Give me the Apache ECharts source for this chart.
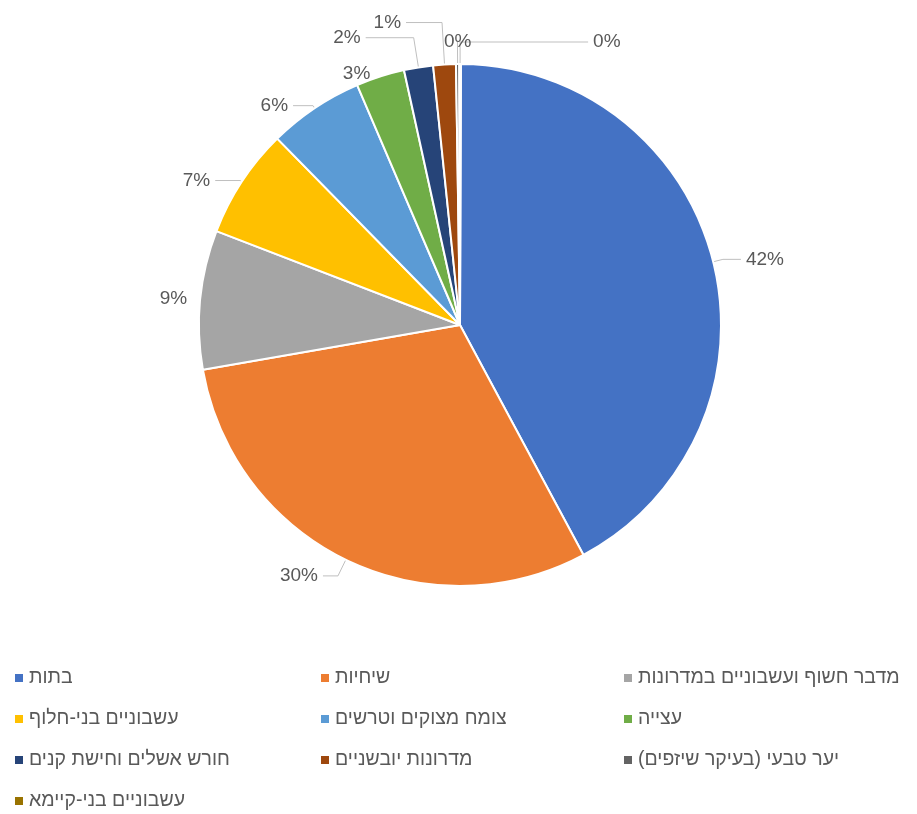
<!DOCTYPE html>
<html>
<head>
<meta charset="utf-8">
<script src="https://cdn.jsdelivr.net/npm/echarts@6/dist/echarts.min.js"></script>
<style>
html,body{margin:0;padding:0;background:#fff;}
#chart{width:917px;height:814px;}
</style>
</head>
<body>
<div id="chart"></div>
<script>
const categories = [
  'בתות',
  'שיחיות',
  'מדבר חשוף ועשבוניים במדרונות',
  'עשבוניים בני-חלוף',
  'צומח מצוקים וטרשים',
  'עצייה',
  'חורש אשלים וחישת קנים',
  'מדרונות יובשניים',
  'יער טבעי (בעיקר שיזפים)\u200F',
  'עשבוניים בני-קיימא'
];
const values = [42.1, 30.1, 8.6, 6.8, 5.9, 3.0, 1.8, 1.4, 0.2, 0.1];
const colors = ['#4472C4', '#ED7D31', '#A5A5A5', '#FFC000', '#5B9BD5', '#70AD47', '#264478', '#9E480E', '#636363', '#997300'];
// leader-line lengths per slice [length, length2, distanceToLabelLine, showLine]
const leader = [
  [10, 18, 5, true],
  [18, 15, 5, true],
  [4, 4, 5, false],
  [2, 25, 5, true],
  [3, 20, 5, true],
  [3, 4, 5, false],
  [30, 48, 5, true],
  [42, 36, 5, true],
  [22, 0, -14, true],
  [22, 128, 5, true]
];

const font = "'Liberation Sans', 'DejaVu Sans', sans-serif";
const chart = echarts.init(document.getElementById('chart'));

function legendCol(idxs, left) {
  return {
    orient: 'vertical',
    left: left,
    top: 668,
    padding: 0,
    itemWidth: 10,
    itemHeight: 10,
    itemGap: 21,
    icon: 'rect',
    data: idxs.map(i => categories[i]),
    textStyle: { color: '#595959', fontSize: 19.5, lineHeight: 20, fontFamily: font, padding: [0, 0, 0, 0] }
  };
}

chart.setOption({
  animation: false,
  color: colors,
  legend: [
    legendCol([0, 3, 6, 9], 13),
    legendCol([1, 4, 7], 319),
    legendCol([2, 5, 8], 622)
  ],
  series: [{
    type: 'pie',
    center: [460, 325],
    radius: 261,
    startAngle: 89.8,
    clockwise: true,
    avoidLabelOverlap: false,
    data: categories.map((c, i) => ({
      name: c,
      value: values[i],
      label: { distanceToLabelLine: leader[i][2] },
      labelLine: { show: leader[i][3], length: leader[i][0], length2: leader[i][1] }
    })),
    itemStyle: { borderColor: '#fff', borderWidth: 2 },
    label: {
      show: true,
      position: 'outside',
      formatter: p => Math.round(p.percent) + '%',
      color: '#595959',
      fontSize: 19,
      fontFamily: font
    },
    labelLine: {
      show: true,
      lineStyle: { color: '#bfbfbf', width: 1 }
    }
  }]
});
</script>
</body>
</html>
